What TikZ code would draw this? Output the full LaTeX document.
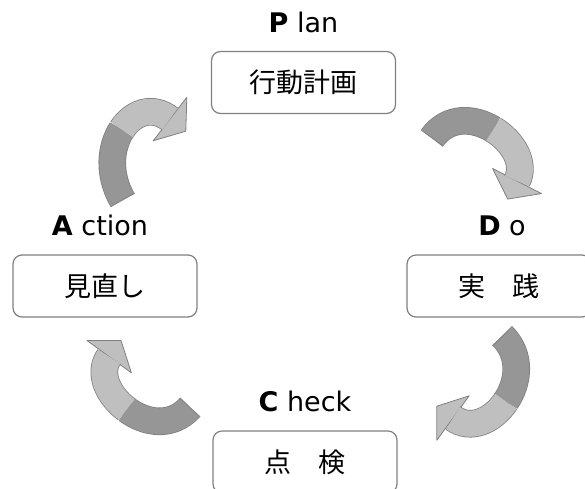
\documentclass[tikz,border=0pt]{standalone}
\usepackage{fontspec}
\setmainfont{DejaVu Sans}
\newfontfamily\jpfont{Noto Sans CJK JP}
\usetikzlibrary{positioning,calc}

\begin{document}
\begin{tikzpicture}[
  x=1pt, y=-1pt,
  stage/.style={draw=black!50, line width=1.2pt, rounded corners=9pt, minimum width=184pt, minimum height=62pt, inner sep=0pt, font=\jpfont\fontsize{27pt}{32pt}\selectfont},
  tag/.style={inner sep=2pt, font=\fontsize{27pt}{32pt}\selectfont},
  band/.style={draw=black!50, line width=0.8pt, double distance=26pt},
  darkband/.style={band, double=black!41},
  lightband/.style={band, double=black!25},
  head/.style={draw=black!50, line width=0.8pt, fill=black!25, line join=round},
  tailend/.style={draw=black!50, line width=0.8pt}
]
\useasboundingbox (0,0) rectangle (585,488);

\node[stage] (plan) at (303.5,82.5) {行動計画};
\node[stage] (do) at (499,286) {実　践};
\node[stage] (check) at (305,462) {点　検};
\node[stage] (act) at (105,286) {見直し};

\node[tag, above=16pt of plan] (plantag) {\textbf{P} lan};
\node[tag, above=16pt of do, xshift=3pt] (dotag) {\textbf{D} o};
\node[tag, above=16pt of check] (checktag) {\textbf{C} heck};
\node[tag, above=16pt of act, xshift=-5pt] (acttag) {\textbf{A} ction};

% Plan -> Do
\coordinate (pd0) at (432,138);
\coordinate (pd1) at (448.15,115.75);
\coordinate (pd2) at (473.9,117.6);
\coordinate (pdm) at (493.35,129.45);
\coordinate (pd3) at (512.8,141.3);
\coordinate (pd4) at (526,163.2);
\coordinate (pdb) at (517,181);
\coordinate (pdt) at (507.7,199.1);
\draw[head] ($(pdb)!27.5pt!90:(pdt)$) -- (pdt) -- ($(pdb)!27.5pt!-90:(pdt)$) -- cycle;
\draw[darkband] (pd0) .. controls (pd1) and (pd2) .. (pdm);
\draw[lightband] (pdm) .. controls (pd3) and (pd4) .. (pdb);
\draw[tailend] ($(pd0)!13.8pt!90:(pd1)$) -- ($(pd0)!13.8pt!-90:(pd1)$);

% Do -> Check
\coordinate (dc0) at (502.5,336);
\coordinate (dc1) at (521.95,355.45);
\coordinate (dc2) at (518.6,382.5);
\coordinate (dcm) at (505.85,401.4);
\coordinate (dc3) at (493.1,420.3);
\coordinate (dc4) at (471,431.05);
\coordinate (dcb) at (453,418);
\coordinate (dct) at (436.8,406.2);
\draw[head] ($(dcb)!27.5pt!90:(dct)$) -- (dct) -- ($(dcb)!27.5pt!-90:(dct)$) -- cycle;
\draw[darkband] (dc0) .. controls (dc1) and (dc2) .. (dcm);
\draw[lightband] (dcm) .. controls (dc3) and (dc4) .. (dcb);
\draw[tailend] ($(dc0)!13.8pt!90:(dc1)$) -- ($(dc0)!13.8pt!-90:(dc1)$);

% Check -> Action
\coordinate (ca0) at (190,407.5);
\coordinate (ca1) at (171.3,427.85);
\coordinate (ca2) at (145.2,423.25);
\coordinate (cam) at (126.7,409.5);
\coordinate (ca3) at (108.25,395.8);
\coordinate (ca4) at (97.4,372.9);
\coordinate (cab) at (109.2,356.7);
\coordinate (cat) at (121,340.5);
\draw[head] ($(cab)!27.5pt!90:(cat)$) -- (cat) -- ($(cab)!27.5pt!-90:(cat)$) -- cycle;
\draw[darkband] (ca0) .. controls (ca1) and (ca2) .. (cam);
\draw[lightband] (cam) .. controls (ca3) and (ca4) .. (cab);
\draw[tailend] ($(ca0)!13.8pt!90:(ca1)$) -- ($(ca0)!13.8pt!-90:(ca1)$);

% Action -> Plan
\coordinate (ap0) at (122.5,200);
\coordinate (ap1) at (107.5,173.9);
\coordinate (ap2) at (110.5,146.8);
\coordinate (apm) at (121.7,129.6);
\coordinate (ap3) at (132.9,112.45);
\coordinate (ap4) at (152.25,105.25);
\coordinate (apb) at (170,119);
\coordinate (apt) at (185.8,131.2);
\draw[head] ($(apb)!27.5pt!90:(apt)$) -- (apt) -- ($(apb)!27.5pt!-90:(apt)$) -- cycle;
\draw[darkband] (ap0) .. controls (ap1) and (ap2) .. (apm);
\draw[lightband] (apm) .. controls (ap3) and (ap4) .. (apb);
\draw[tailend] ($(ap0)!13.8pt!90:(ap1)$) -- ($(ap0)!13.8pt!-90:(ap1)$);
\end{tikzpicture}
\end{document}
